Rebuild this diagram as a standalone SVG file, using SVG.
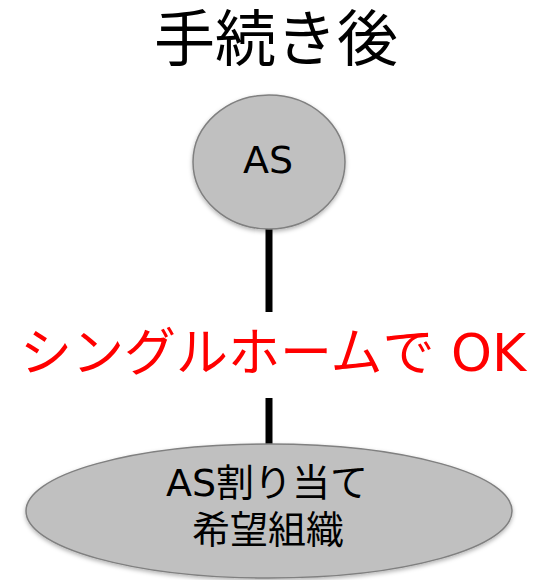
<svg xmlns="http://www.w3.org/2000/svg" width="535" height="580" viewBox="0 0 535 580">
<defs>
<filter id="sh" x="-10%" y="-10%" width="120%" height="130%">
<feDropShadow dx="0" dy="2" stdDeviation="2" flood-color="#000" flood-opacity="0.3"/>
</filter>
</defs>
<style>
.node{fill:#c0c0c0;stroke:#808080;stroke-width:1.5;filter:url(#sh)}
.t{font-family:"DejaVu Sans","Noto Sans CJK JP",sans-serif;fill:#000;text-anchor:middle}
.conn{stroke:#000;stroke-width:7;fill:none}
</style>
<rect width="535" height="580" fill="#fff"/>
<text class="t" x="276" y="61" font-size="61">手続き後</text>
<g id="connectors">
<line class="conn" x1="269" y1="229" x2="269" y2="312"/>
<line class="conn" x1="269" y1="398" x2="269" y2="444"/>
</g>
<text x="273" y="371" font-size="52" fill="#ff0000" text-anchor="middle" font-family="DejaVu Sans,'Noto Sans CJK JP',sans-serif">シングルホームで OK</text>
<g id="node-as">
<ellipse class="node" cx="269" cy="162" rx="76" ry="67"/>
<text class="t" x="268" y="173" font-size="38">AS</text>
</g>
<g id="node-org">
<ellipse class="node" cx="269" cy="511" rx="243" ry="67"/>
<text class="t" x="267" y="496" font-size="38">AS割り当て</text>
<text class="t" x="268" y="543" font-size="38">希望組織</text>
</g>
</svg>
